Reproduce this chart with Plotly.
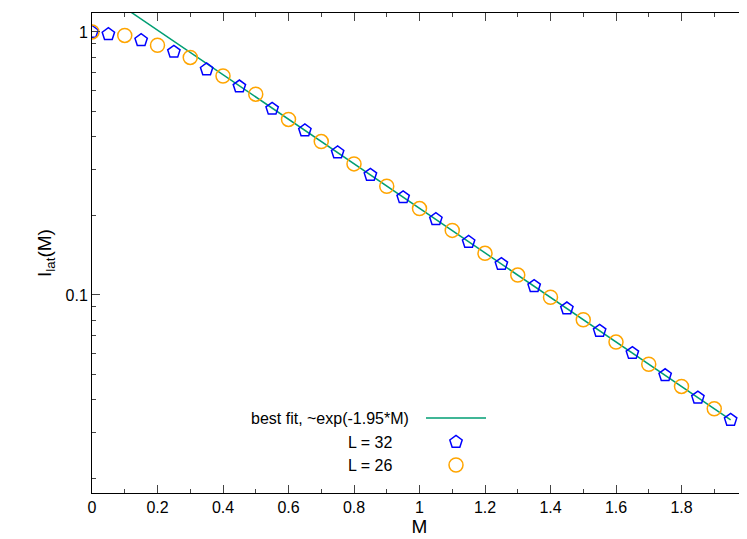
import plotly.graph_objects as go

# L = 32 data
m32 = [0, 0.05, 0.15, 0.25, 0.35, 0.45, 0.55, 0.65, 0.75, 0.85, 0.95,
       1.05, 1.15, 1.25, 1.35, 1.45, 1.55, 1.65, 1.75, 1.85, 1.95]
i32 = [1.0, 0.98, 0.93, 0.84, 0.72, 0.62, 0.51, 0.422, 0.348, 0.286, 0.235,
       0.194, 0.159, 0.131, 0.108, 0.0888, 0.073, 0.0601, 0.0495, 0.0407, 0.0335]

# L = 26 data
m26 = [0, 0.1, 0.2, 0.3, 0.4, 0.5, 0.6, 0.7, 0.8, 0.9, 1.0,
       1.1, 1.2, 1.3, 1.4, 1.5, 1.6, 1.7, 1.8, 1.9]
i26 = [1.0, 0.97, 0.89, 0.80, 0.68, 0.58, 0.465, 0.383, 0.315, 0.259, 0.213,
       0.176, 0.144, 0.119, 0.098, 0.0805, 0.0662, 0.0545, 0.0449, 0.0369]

# fit ~ exp(-1.95*M), endpoints (straight on log axis)
fit_m = [0, 1.95]
fit_i = [1.5, 0.0335]

FONT = "Liberation Sans, Arial, sans-serif"
green = "#009e73"
blue = "#0000ff"
orange = "#ffa500"

fig = go.Figure()
fig.add_trace(go.Scatter(x=fit_m, y=fit_i, mode="lines",
                         line=dict(color=green, width=1.5), cliponaxis=True))
fig.add_trace(go.Scatter(x=m32, y=i32, mode="markers",
                         marker=dict(symbol="pentagon-open", size=13, color=blue,
                                     line=dict(width=1.5))))
fig.add_trace(go.Scatter(x=m26, y=i26, mode="markers",
                         marker=dict(symbol="circle-open", size=14, color=orange,
                                     line=dict(width=1.5))))

# legend keys on an overlay axis in pixel units
fig.add_trace(go.Scatter(x=[418, 478], y=[410, 410], mode="lines",
                         line=dict(color=green, width=1.5),
                         xaxis="x2", yaxis="y2"))
fig.add_trace(go.Scatter(x=[448], y=[434], mode="markers",
                         marker=dict(symbol="pentagon-open", size=13, color=blue,
                                     line=dict(width=1.5)),
                         xaxis="x2", yaxis="y2"))
fig.add_trace(go.Scatter(x=[448], y=[457], mode="markers",
                         marker=dict(symbol="circle-open", size=14, color=orange,
                                     line=dict(width=1.5)),
                         xaxis="x2", yaxis="y2"))

labels = ["best fit, ~exp(-1.95*M)", "L = 32", "L = 26"]
label_pos = [(403, 410), (386, 434), (386, 457)]
for t, (px, py) in zip(labels, label_pos):
    fig.add_annotation(x=px, y=py, xref="x2", yref="y2", text=t, showarrow=False,
                       xanchor="right", font=dict(size=16, color="black"))

fig.update_layout(
    width=747, height=539,
    margin=dict(l=84, r=8, t=5, b=54),
    paper_bgcolor="white", plot_bgcolor="white",
    showlegend=False,
    font=dict(family=FONT, size=16, color="black"),
    xaxis=dict(range=[0, 2], dtick=0.2, tickformat="~g", ticks="inside",
               ticklen=8, mirror="allticks", showline=True, linecolor="black",
               linewidth=1, showgrid=False, zeroline=False, automargin=False,
               title=dict(text="M", standoff=4),
               minor=dict(ticks="inside", ticklen=4, dtick=0.1)),
    yaxis=dict(type="log", range=[-1.753, 0.072], tickvals=[0.1, 1],
               ticktext=["0.1", "1"], ticks="inside", ticklen=8,
               mirror="allticks", showline=True, linecolor="black",
               linewidth=1, showgrid=False, zeroline=False, automargin=False,
               title=dict(text="I<sub>lat</sub>(M)", standoff=8),
               minor=dict(ticks="inside", ticklen=4,
                          tickvals=[0.02, 0.03, 0.04, 0.05, 0.06, 0.07, 0.08, 0.09,
                                    0.2, 0.3, 0.4, 0.5, 0.6, 0.7, 0.8, 0.9])),
    xaxis2=dict(overlaying="x", range=[84, 739], visible=False, fixedrange=True),
    yaxis2=dict(overlaying="y", range=[485, 5], visible=False, fixedrange=True),
)

fig.write_html("out.html")
